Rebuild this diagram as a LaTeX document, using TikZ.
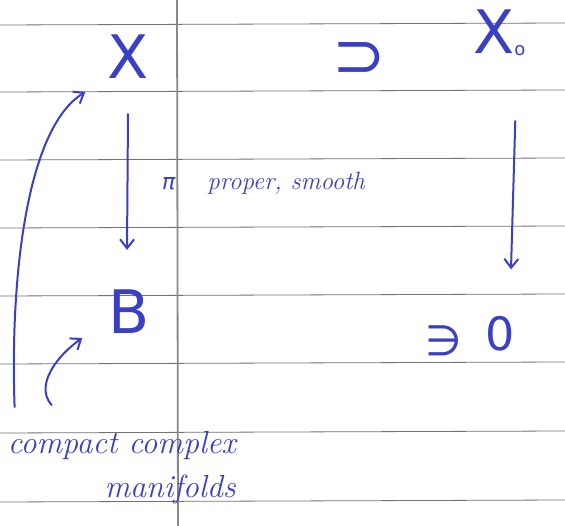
\documentclass[tikz,border=0pt]{standalone}
\usepackage{fontspec}
\usetikzlibrary{arrows.meta,calc}
\newfontfamily\handsym{DejaVu Sans}
\definecolor{inkblue}{RGB}{58,64,196}
\definecolor{rulegray}{RGB}{115,115,115}

\begin{document}
\begin{tikzpicture}[x=1pt, y=-1pt, line cap=round, line join=round, >={Straight Barb[length=9pt,width=14pt]},
    ink/.style={draw=inkblue, line width=2pt},
    hand/.style={text=inkblue, inner sep=0pt}]
  % ruled paper
  \useasboundingbox[fill=white] (0,0) rectangle (565,526);
  \foreach \y in {24,91,159,227,295,363,432,501}
    \draw[rulegray, line width=0.8pt] (0,\y+1) -- (565,\y-1);
  \draw[rulegray!85, line width=1.8pt] (177,0) -- (178,526);

  % the family and its central fibre
  \node[hand, font=\handsym\fontsize{60}{60}\selectfont] (X) at (128,57) {X};
  \node[hand, font=\handsym\fontsize{64}{64}\selectfont] (sup) at (359,60) {⊃};
  \node[hand, anchor=west, font=\handsym\fontsize{60}{60}\selectfont] (Xo) at (473,33) {X\raisebox{-2pt}{\fontsize{18}{18}\selectfont o}};
  \node[hand, font=\handsym\fontsize{60}{60}\selectfont] (B) at (129,312) {B};
  \node[hand, font=\handsym\fontsize{42}{42}\selectfont] (ni) at (444,341) {∋};
  \node[hand, font=\handsym\fontsize{46}{46}\selectfont] (pt) at (500,334) {0};

  % maps
  \draw[ink, ->] ($(X.south)+(0,35)$) -- ($(B.north)+(-2,-40)$);
  \draw[ink, ->] ($(Xo.south)+(16,65)$) -- ($(pt.north)+(11,-47)$);
  \node[hand, anchor=base west, font=\itshape\fontsize{25}{25}\selectfont] (map) at (162,190)
    {{\handsym\fontsize{22}{22}\selectfont π}\hspace{32pt}proper, smooth};

  % annotation
  \node[hand, anchor=north east, align=right, font=\itshape\fontsize{32}{44}\selectfont] (lab) at (236,431)
    {compact complex\\manifolds};
  \draw[ink, ->] ($(lab.north west)+(7,-24)$) .. controls (10,280) and (26,128) .. ($(X.south west)+(-22,13)$);
  \draw[ink, ->] ($(lab.north west)+(44,-26)$) .. controls (34,385) and (58,355) .. ($(B.south west)+(-26,4)$);
\end{tikzpicture}
\end{document}
